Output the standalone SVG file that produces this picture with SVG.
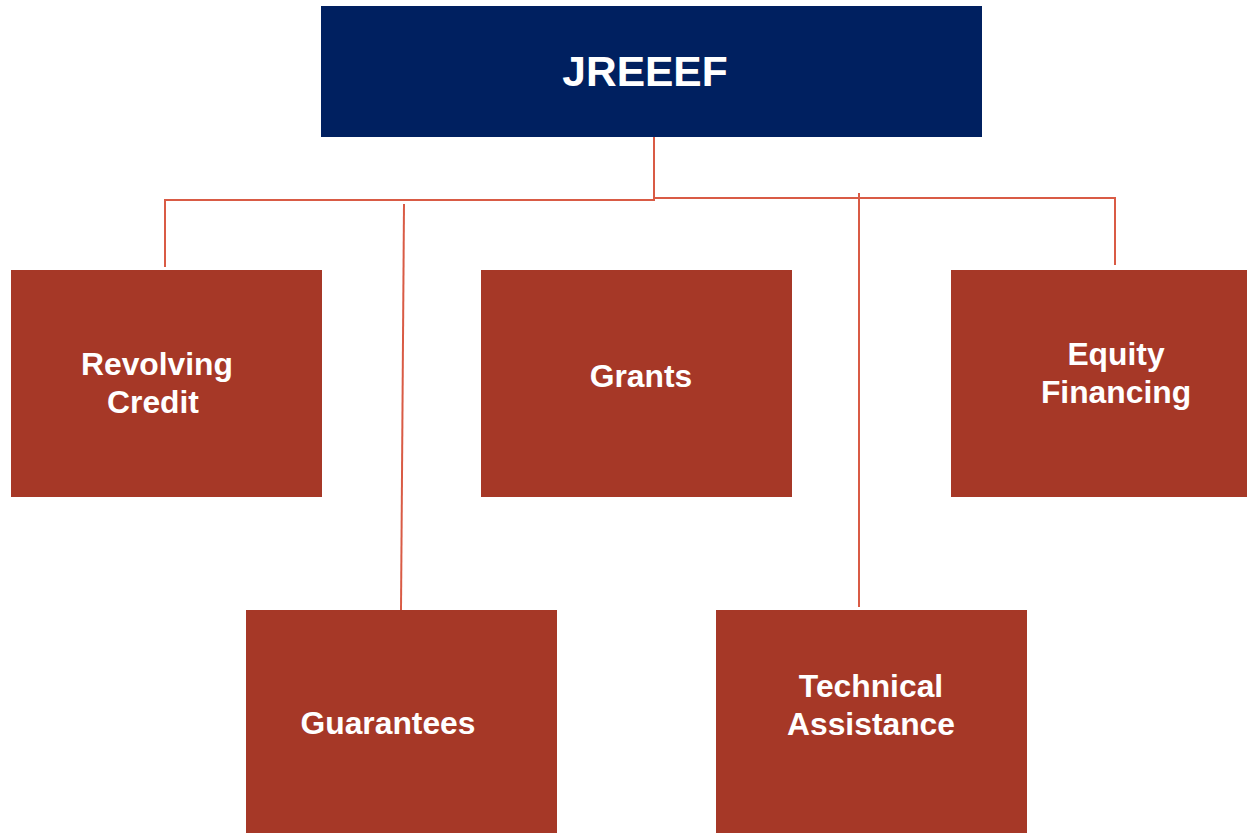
<svg xmlns="http://www.w3.org/2000/svg" width="1247" height="833" viewBox="0 0 1247 833">
<style>
.box{fill:#A63827}
.top{fill:#002060}
.t{font-family:"Liberation Sans",Arial,sans-serif;font-weight:bold;fill:#fff;text-anchor:middle;font-size:31.8px}
.c{fill:none;stroke:#D95B45;stroke-width:2}
</style>
<rect width="1247" height="833" fill="#fff"/>
<g id="connectors">
<polyline class="c" points="654,132 654,200 165,200 165,267"/>
<polyline class="c" points="654,198 1115,198 1115,265"/>
<line class="c" x1="404" y1="204" x2="401" y2="610"/>
<line class="c" x1="859" y1="193" x2="859" y2="607"/>
</g>
<g id="jreeef"><rect class="top" x="321" y="6" width="661" height="131"/><text class="t" x="645" y="86" style="font-size:42.5px">JREEEF</text></g>
<g id="revolving"><rect class="box" x="11" y="270" width="311" height="227"/><text class="t" x="157" y="375">Revolving</text><text class="t" x="153" y="413">Credit</text></g>
<g id="grants"><rect class="box" x="481" y="270" width="311" height="227"/><text class="t" x="641" y="387">Grants</text></g>
<g id="equity"><rect class="box" x="951" y="270" width="296" height="227"/><text class="t" x="1116" y="365">Equity</text><text class="t" x="1116" y="403">Financing</text></g>
<g id="guarantees"><rect class="box" x="246" y="610" width="311" height="223"/><text class="t" x="388" y="734">Guarantees</text></g>
<g id="technical"><rect class="box" x="716" y="610" width="311" height="223"/><text class="t" x="871" y="697">Technical</text><text class="t" x="871" y="735">Assistance</text></g>
</svg>
